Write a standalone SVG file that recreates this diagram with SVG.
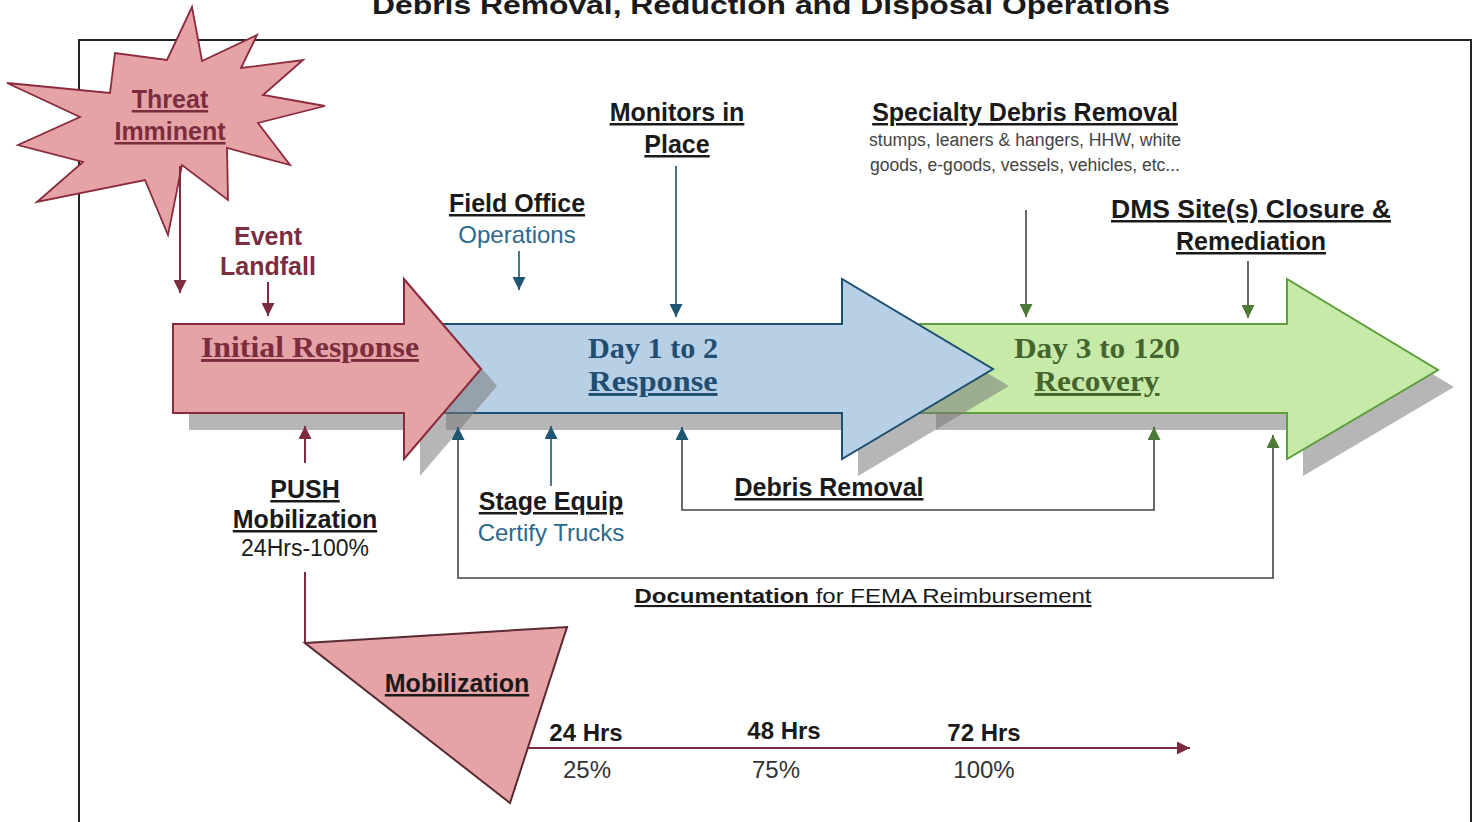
<svg xmlns="http://www.w3.org/2000/svg" width="1475" height="822" viewBox="0 0 1475 822">
<style>
text{font-family:"Liberation Sans",Arial,sans-serif;text-anchor:middle}
.h{font-weight:bold;font-size:25px;fill:#1a1a1a;text-decoration:underline}
.mr{fill:#7b2d3f}
.bl{fill:#2c6a8e;font-size:24px}
.sub{font-size:18px;fill:#444}
.big{font-family:"Liberation Serif","Times New Roman",serif;font-weight:bold;font-size:29px}
.ul{text-decoration:underline}
.shadow{fill:#7a7a7a;opacity:0.55}
.cm{fill:none;stroke:#7b2d3f;stroke-width:2}
.cb{fill:none;stroke:#1f5673;stroke-width:1.6}
.cg{fill:none;stroke:#444;stroke-width:1.6}
</style>
<defs>
<marker id="am" viewBox="0 0 10 10" refX="10" refY="5" markerWidth="13" markerHeight="13" markerUnits="userSpaceOnUse" orient="auto"><path d="M0,0 L10,5 L0,10 z" fill="#7b2d3f"/></marker>
<marker id="ab" viewBox="0 0 10 10" refX="10" refY="5" markerWidth="13" markerHeight="13" markerUnits="userSpaceOnUse" orient="auto"><path d="M0,0 L10,5 L0,10 z" fill="#1f5673"/></marker>
<marker id="ag" viewBox="0 0 10 10" refX="10" refY="5" markerWidth="13" markerHeight="13" markerUnits="userSpaceOnUse" orient="auto"><path d="M0,0 L10,5 L0,10 z" fill="#4a7a35"/></marker>
<marker id="abs" viewBox="0 0 10 10" refX="10" refY="5" markerWidth="13" markerHeight="13" markerUnits="userSpaceOnUse" orient="auto-start-reverse"><path d="M0,0 L10,5 L0,10 z" fill="#1f5673"/></marker>
</defs>
<rect x="0" y="0" width="1475" height="822" fill="#ffffff"/>
<text x="771" y="14" style="font-weight:bold;font-size:26px;fill:#1a1a1a" textLength="798" lengthAdjust="spacingAndGlyphs">Debris Removal, Reduction and Disposal Operations</text>
<rect id="frame" x="79" y="40" width="1392" height="800" fill="none" stroke="#222" stroke-width="2"/>

<g id="phase-recovery">
<polygon class="shadow" transform="translate(16,17)" points="920,324 1287,324 1287,279 1438,370 1287,459 1287,413 920,413"/>
<polygon points="920,324 1287,324 1287,279 1438,370 1287,459 1287,413 920,413" fill="#c8eaa8" stroke="#5e9e3e" stroke-width="2"/>
<text class="big" x="1097" y="358" fill="#45652e" textLength="166" lengthAdjust="spacingAndGlyphs">Day 3 to 120</text>
<text class="big ul" x="1097" y="391" fill="#45652e" textLength="125" lengthAdjust="spacingAndGlyphs">Recovery</text>
</g>
<g id="phase-response">
<polygon class="shadow" transform="translate(16,17)" points="430,324 842,324 842,279 993,369 842,459 842,413 430,413"/>
<polygon points="430,324 842,324 842,279 993,369 842,459 842,413 430,413" fill="#b8d0e6" stroke="#1f4f6f" stroke-width="2"/>
<text class="big" x="653" y="358" fill="#1f4e72" textLength="130" lengthAdjust="spacingAndGlyphs">Day 1 to 2</text>
<text class="big ul" x="653" y="391" fill="#1f4e72" textLength="129" lengthAdjust="spacingAndGlyphs">Response</text>
</g>
<g id="phase-initial">
<polygon class="shadow" transform="translate(16,17)" points="173,324 404,324 404,279 481,369 404,459 404,413 173,413"/>
<polygon points="173,324 404,324 404,279 481,369 404,459 404,413 173,413" fill="#e6a3a6" stroke="#8b2a3c" stroke-width="2"/>
<text class="big ul" x="310" y="357" fill="#7b2d3f" textLength="218" lengthAdjust="spacingAndGlyphs">Initial Response</text>
</g>

<g id="threat">
<polygon points="192,7 202,61 257,35 241,68 303,60 263,95 325,106 258,123 290,165 227,148 228,200 182,165 168,235 145,180 37,202 83,162 18,145 80,117 7,83 110,93 115,53 167,60" fill="#e6a3a6" stroke="#8b2a3c" stroke-width="1.8"/>
<text class="h mr" x="170" y="108" style="fill:#7b2d3f">Threat</text>
<text class="h" x="170" y="140" style="fill:#7b2d3f">Imminent</text>
</g>
<g id="event">
<text x="268" y="245" style="font-weight:bold;font-size:25px;fill:#7b2d3f">Event</text>
<text x="268" y="275" style="font-weight:bold;font-size:25px;fill:#7b2d3f">Landfall</text>
</g>
<g id="field-office">
<text class="h" x="517" y="212">Field Office</text>
<text class="bl" x="517" y="243">Operations</text>
</g>
<g id="monitors">
<text class="h" x="677" y="121">Monitors in</text>
<text class="h" x="677" y="153">Place</text>
</g>
<g id="specialty">
<text class="h" x="1025" y="121">Specialty Debris Removal</text>
<text class="sub" x="1025" y="146" textLength="312" lengthAdjust="spacingAndGlyphs">stumps, leaners &amp; hangers, HHW, white</text>
<text class="sub" x="1025" y="171" textLength="310" lengthAdjust="spacingAndGlyphs">goods, e-goods, vessels, vehicles, etc...</text>
</g>
<g id="dms">
<text class="h" x="1251" y="218" textLength="280" lengthAdjust="spacingAndGlyphs">DMS Site(s) Closure &amp;</text>
<text class="h" x="1251" y="250">Remediation</text>
</g>
<g id="push">
<text class="h" x="305" y="498">PUSH</text>
<text class="h" x="305" y="528">Mobilization</text>
<text x="305" y="556" style="font-size:23px;fill:#1a1a1a">24Hrs-100%</text>
</g>
<g id="stage">
<text class="h" x="551" y="510">Stage Equip</text>
<text class="bl" x="551" y="541">Certify Trucks</text>
</g>
<g id="debris-removal">
<text class="h" x="829" y="496">Debris Removal</text>
</g>
<g id="documentation">
<text x="863" y="603" style="font-size:21px;fill:#1a1a1a;text-decoration:underline" textLength="457" lengthAdjust="spacingAndGlyphs"><tspan style="font-weight:bold">Documentation</tspan> for FEMA Reimbursement</text>
</g>
<g id="mobilization">
<polygon points="305,643 567,627 510,803" fill="#e6a3a6" stroke="#5a2a33" stroke-width="2"/>
<text class="h" x="457" y="692">Mobilization</text>
</g>
<g id="timeline-labels" style="font-size:24px;fill:#1a1a1a">
<text x="586" y="741" style="font-weight:bold">24 Hrs</text>
<text x="784" y="739" style="font-weight:bold">48 Hrs</text>
<text x="984" y="741" style="font-weight:bold">72 Hrs</text>
<text x="587" y="778" style="fill:#333">25%</text>
<text x="776" y="778" style="fill:#333">75%</text>
<text x="984" y="778" style="fill:#333">100%</text>
</g>

<g id="connectors">
<line class="cm" x1="180" y1="166" x2="180" y2="293" marker-end="url(#am)"/>
<line class="cm" x1="268" y1="282" x2="268" y2="316" marker-end="url(#am)"/>
<line class="cb" x1="519" y1="251" x2="519" y2="290" marker-end="url(#ab)"/>
<line class="cb" x1="676" y1="166" x2="676" y2="317" marker-end="url(#ab)"/>
<line class="cg" x1="1026" y1="210" x2="1026" y2="317" marker-end="url(#ag)"/>
<line class="cg" x1="1248" y1="261" x2="1248" y2="318" marker-end="url(#ag)"/>
<line class="cm" x1="305" y1="463" x2="305" y2="426" marker-end="url(#am)"/>
<line class="cm" x1="305" y1="572" x2="305" y2="644"/>
<line class="cb" x1="551" y1="486" x2="551" y2="426" marker-end="url(#ab)"/>
<path class="cg" d="M682,427 L682,510 L1154,510 L1154,427" marker-start="url(#abs)" marker-end="url(#ag)"/>
<path class="cg" d="M458,427 L458,578 L1273,578 L1273,435" marker-start="url(#abs)" marker-end="url(#ag)"/>
<line class="cm" x1="528" y1="748" x2="1190" y2="748" marker-end="url(#am)"/>
</g>
</svg>
